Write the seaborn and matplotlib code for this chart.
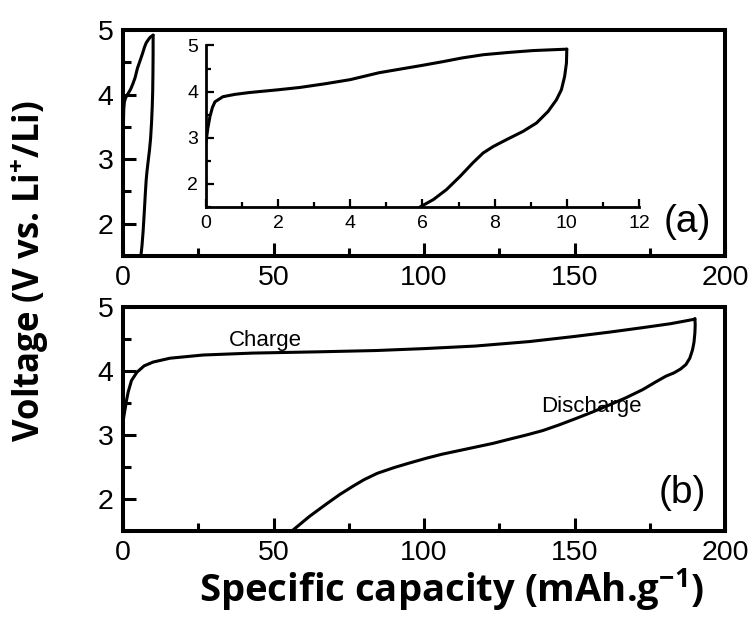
import matplotlib
matplotlib.use("Agg")
import matplotlib.pyplot as plt
from matplotlib.ticker import MultipleLocator
import seaborn as sns
import pandas as pd

# First cycle (a): capacity in mAh/g, voltage in V
charge_a_cap = [0.0, 0.05, 0.11, 0.18, 0.25, 0.47, 0.8, 1.2, 2.0, 2.6, 3.3, 4.0,
                4.8, 5.4, 6.0, 6.57, 7.1, 7.69, 8.4, 9.07, 10.0]
charge_a_v = [2.9, 3.2, 3.46, 3.66, 3.78, 3.89, 3.94, 3.98, 4.04, 4.09, 4.17, 4.26,
              4.41, 4.49, 4.57, 4.65, 4.73, 4.80, 4.85, 4.89, 4.92]
discharge_a_cap = [10.0, 9.99, 9.94, 9.85, 9.71, 9.48, 9.16, 8.79, 8.33, 7.96,
                   7.68, 7.40, 7.05, 6.67, 6.30, 5.93]
discharge_a_v = [4.92, 4.62, 4.33, 4.04, 3.82, 3.57, 3.32, 3.14, 2.96, 2.81,
                 2.67, 2.46, 2.17, 1.88, 1.66, 1.5]

# Second cycle (b)
charge_b_cap = [0.0, 0.3, 0.7, 1.2, 1.7, 2.8, 4.6, 7.0, 10.0, 15.6, 26.6, 43, 65,
                84, 100, 117, 135, 150, 162, 173, 182, 190]
charge_b_v = [3.2, 3.3, 3.41, 3.55, 3.67, 3.85, 3.98, 4.08, 4.14, 4.2, 4.25, 4.28,
              4.3, 4.32, 4.35, 4.39, 4.46, 4.54, 4.61, 4.68, 4.74, 4.81]
discharge_b_cap = [190, 190.1, 190, 189.7, 189.2, 188.3, 187, 185.2, 183, 180.4,
                   177, 172.7, 167, 161.6, 156, 150.6, 145, 139.5, 134, 128, 123,
                   117, 112, 106, 101, 95, 90, 84.4, 80, 76.4, 72, 67.8, 62, 56.1]
discharge_b_v = [4.82, 4.72, 4.6, 4.45, 4.33, 4.2, 4.1, 4.03, 3.97, 3.92,
                 3.83, 3.71, 3.58, 3.47, 3.36, 3.26, 3.16, 3.07, 3.0, 2.93, 2.87,
                 2.81, 2.76, 2.70, 2.64, 2.56, 2.49, 2.40, 2.30, 2.20, 2.07, 1.93, 1.73, 1.5]

main_xticks = [0, 50, 100, 150, 200]
main_yticks = [2, 3, 4, 5]
inset_xticks = [0, 2, 4, 6, 8, 10, 12]
inset_yticks = [2, 3, 4, 5]

sns.set_theme(style="ticks")
plt.rcParams["font.family"] = ["Liberation Sans", "DejaVu Sans"]
plt.rcParams["text.color"] = "black"
plt.rcParams["axes.labelcolor"] = "black"
plt.rcParams["mathtext.fontset"] = "custom"
plt.rcParams["mathtext.rm"] = "Open Sans:bold"
plt.rcParams["mathtext.it"] = "Open Sans:bold"
plt.rcParams["mathtext.bf"] = "Open Sans:bold"

LW = 2.2
fig = plt.figure(figsize=(7.52, 6.17), dpi=100)
ax_a = fig.add_axes([0.1636, 0.5851, 0.8005, 0.3663])
ax_b = fig.add_axes([0.1636, 0.1394, 0.8005, 0.3630])
ax_in = fig.add_axes([0.2739, 0.6645, 0.5758, 0.2618])


def curve(ax, cap, v, lw):
    df = pd.DataFrame({"cap": cap, "v": v})
    sns.lineplot(data=df, x="cap", y="v", ax=ax, sort=False, estimator=None,
                 color="black", linewidth=lw)


for ax in (ax_a, ax_in):
    curve(ax, charge_a_cap, charge_a_v, LW)
    curve(ax, discharge_a_cap, discharge_a_v, LW)
curve(ax_b, charge_b_cap, charge_b_v, LW)
curve(ax_b, discharge_b_cap, discharge_b_v, LW)

for ax in (ax_a, ax_b):
    ax.set_xlim(0, 200)
    ax.set_ylim(1.5, 5)
    ax.set_xticks(main_xticks)
    ax.set_yticks(main_yticks)
    ax.xaxis.set_minor_locator(MultipleLocator(25))
    ax.yaxis.set_minor_locator(MultipleLocator(0.5))
    ax.set_xlabel("")
    ax.set_ylabel("")
    for s in ax.spines.values():
        s.set_linewidth(2.9)
        s.set_color("black")
    ax.tick_params(which="both", direction="in", top=False, right=False,
                   color="black", width=2.2, labelsize=20.5, labelcolor="black")
    ax.tick_params(which="major", length=9.4)
    ax.tick_params(which="minor", length=5.8)
    ax.tick_params(axis="x", which="major", pad=6.5)
    ax.tick_params(axis="y", which="major", pad=7)

ax_in.set_xlim(0, 12)
ax_in.set_ylim(1.5, 5)
ax_in.set_xticks(inset_xticks)
ax_in.set_yticks(inset_yticks)
ax_in.xaxis.set_minor_locator(MultipleLocator(1))
ax_in.yaxis.set_minor_locator(MultipleLocator(0.5))
ax_in.set_xlabel("")
ax_in.set_ylabel("")
ax_in.set_facecolor("white")
ax_in.spines["top"].set_visible(False)
ax_in.spines["right"].set_visible(False)
for side in ("left", "bottom"):
    ax_in.spines[side].set_linewidth(2.0)
    ax_in.spines[side].set_color("black")
ax_in.tick_params(which="both", direction="in", top=False, right=False,
                  color="black", width=1.6, labelsize=14, labelcolor="black")
ax_in.tick_params(which="major", length=5.8)
ax_in.tick_params(which="minor", length=3.6)
ax_in.tick_params(axis="x", which="major", pad=5.4)
ax_in.tick_params(axis="y", which="major", pad=5.5)

ax_a.text(187.5, 2.03, "(a)", fontsize=28, color="black", ha="center", va="center")
ax_b.text(185.7, 2.09, "(b)", fontsize=28, color="black", ha="center", va="center")
ax_b.text(47.2, 4.39, "Charge", fontsize=16, color="black", ha="center", va="baseline")
ax_b.text(155.5, 3.36, "Discharge", fontsize=16, color="black", ha="center",
          va="baseline")

fig.text(0.600, 0.0243, "Specific capacity (mAh.g$^{-1}$)", fontsize=27.5,
         family="Open Sans", weight="bold", color="black", ha="center", va="baseline")
fig.text(0.040, 0.561, "Voltage (V vs. Li$^{+}$/Li)", fontsize=25,
         family="Open Sans", weight="bold", color="black", ha="center", va="center",
         rotation=90)

fig.savefig("out.png", dpi=100)
